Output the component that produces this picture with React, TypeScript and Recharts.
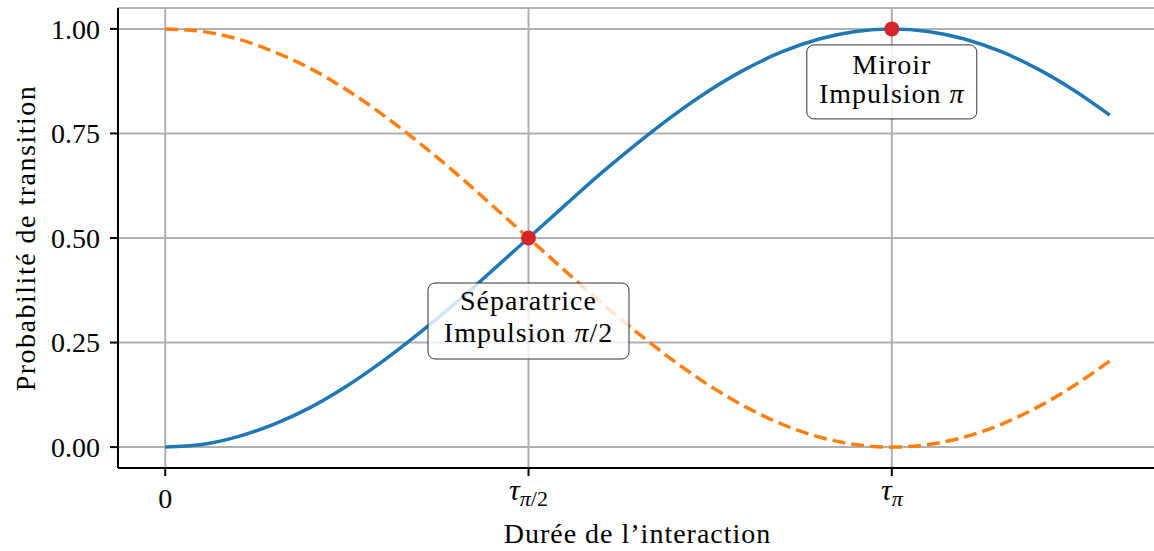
import { ComposedChart, Line, XAxis, YAxis, CartesianGrid, ReferenceDot } from "recharts";

// durée d'interaction (unités de τπ) et probabilités
const times = [0, 0.05, 0.1, 0.15, 0.2, 0.25, 0.3, 0.35, 0.4, 0.45, 0.5, 0.55, 0.6, 0.65, 0.7, 0.75, 0.8, 0.85, 0.9, 0.95, 1, 1.05, 1.1, 1.15, 1.2, 1.25, 1.3];
const excitedProb = [0, 0.006, 0.025, 0.055, 0.095, 0.146, 0.206, 0.273, 0.345, 0.422, 0.5, 0.578, 0.655, 0.727, 0.794, 0.854, 0.905, 0.946, 0.976, 0.994, 1, 0.994, 0.976, 0.946, 0.905, 0.854, 0.794];
const groundProb = [1, 0.994, 0.976, 0.945, 0.905, 0.854, 0.794, 0.727, 0.655, 0.578, 0.5, 0.422, 0.345, 0.273, 0.206, 0.146, 0.095, 0.054, 0.024, 0.006, 0, 0.006, 0.024, 0.054, 0.095, 0.146, 0.206];

const xTicks = [0, 0.5, 1];
const xTickMain = ["0", "τ", "τ"];
const xTickSub = ["", "π/2", "π"];
const yTicks = [0, 0.25, 0.5, 0.75, 1];
const yTickLabels = ["0.00", "0.25", "0.50", "0.75", "1.00"];

const pulseTimes = [0.5, 1];
const pulseProbs = [0.5, 1];
const pulseTitles = ["Séparatrice", "Miroir"];
const pulseAngles = ["π/2", "π"];

// position des boîtes par rapport au point
const boxes = [
  { w: 201, h: 76, top: 45, line1: 72, line2: 104 },
  { w: 170, h: 74, top: 16, line1: 45, line2: 74 },
];

const FONT = "'Liberation Serif', 'DejaVu Serif', serif";

const data = times.map((t, i) => ({ t, excited: excitedProb[i], ground: groundProb[i] }));

function XTick(props: any) {
  const { x, y, payload } = props;
  const i = xTicks.indexOf(payload.value);
  if (!xTickSub[i]) {
    return (
      <text x={x} y={y + 30} textAnchor="middle" fontSize={28} fill="#000" fontFamily={FONT}>
        {xTickMain[i]}
      </text>
    );
  }
  const sub = xTickSub[i];
  return (
    <text x={x} y={y + 22} textAnchor="middle" fontSize={30} fill="#000" fontFamily={FONT}>
      <tspan fontStyle="italic">{xTickMain[i]}</tspan>
      <tspan fontSize={22} dy={6} fontStyle="italic">{sub[0]}</tspan>
      <tspan fontSize={22}>{sub.slice(1)}</tspan>
    </text>
  );
}

function pulseShape(i: number) {
  return (props: any) => {
    const { cx, cy } = props;
    const b = boxes[i];
    const angle = pulseAngles[i];
    return (
      <g>
        <rect x={cx - b.w / 2} y={cy + b.top} width={b.w} height={b.h} rx={7} fill="#fff" fillOpacity={0.8} stroke="#333" strokeWidth={1} />
        <text x={cx} y={cy + b.line1} textAnchor="middle" fontSize={28} fontFamily={FONT} letterSpacing={1} fill="#000">
          {pulseTitles[i]}
        </text>
        <text x={cx} y={cy + b.line2} textAnchor="middle" fontSize={28} fontFamily={FONT} letterSpacing={1} fill="#000">
          Impulsion <tspan fontStyle="italic">{angle[0]}</tspan>
          {angle.slice(1)}
        </text>
        <circle cx={cx} cy={cy} r={7.5} fill="#d62728" />
      </g>
    );
  };
}

export default function App() {
  return (
    <div style={{ position: "fixed", left: 0, top: 0, width: 1154, height: 551, overflow: "hidden", background: "#fff", fontFamily: FONT }}>
      <ComposedChart width={1200} height={551} data={data} margin={{ top: 8, right: 43, bottom: 0, left: 0 }}>
        <CartesianGrid stroke="#b0b0b0" strokeWidth={2} />
        <XAxis
          dataKey="t"
          type="number"
          domain={[-0.065, 1.365]}
          ticks={xTicks}
          height={83}
          tick={<XTick />}
          tickSize={8}
          axisLine={{ stroke: "#000", strokeWidth: 2 }}
          tickLine={{ stroke: "#000", strokeWidth: 2 }}
          allowDataOverflow
          label={{
            content: (p: any) => {
              const vb = p.viewBox;
              return (
                <text x={vb.x + vb.width / 2} y={vb.y + 75} textAnchor="middle" fontSize={28} fontFamily={FONT} letterSpacing={1} fill="#000">
                  Durée de l’interaction
                </text>
              );
            },
          }}
        />
        <XAxis xAxisId="top" orientation="top" type="number" domain={[-0.065, 1.365]} height={0} tick={false} tickLine={false} axisLine={{ stroke: "#000", strokeWidth: 2 }} />
        <YAxis
          type="number"
          domain={[-0.05, 1.05]}
          ticks={yTicks}
          width={118}
          tickSize={8}
          tickMargin={10}
          tickFormatter={(v: number) => yTickLabels[yTicks.indexOf(v)]}
          tick={{ fontSize: 28, fill: "#000", fontFamily: FONT }}
          axisLine={{ stroke: "#000", strokeWidth: 2 }}
          tickLine={{ stroke: "#000", strokeWidth: 2 }}
          allowDataOverflow
          label={{
            content: (p: any) => {
              const vb = p.viewBox;
              const cx = vb.x + 25;
              const cy = vb.y + vb.height / 2;
              return (
                <text x={cx} y={cy} transform={`rotate(-90 ${cx} ${cy})`} textAnchor="middle" dominantBaseline="central" fontSize={28} fontFamily={FONT} letterSpacing={1.5} fill="#000">
                  Probabilité de transition
                </text>
              );
            },
          }}
        />
        <Line type="monotone" dataKey="excited" stroke="#1f77b4" strokeWidth={3.5} dot={false} isAnimationActive={false} />
        <Line type="monotone" dataKey="ground" stroke="#ff7f0e" strokeWidth={3.5} strokeDasharray="13 6" dot={false} isAnimationActive={false} />
        {pulseTimes.map((t, i) => (
          <ReferenceDot key={i} x={t} y={pulseProbs[i]} r={7} shape={pulseShape(i)} ifOverflow="visible" />
        ))}
      </ComposedChart>
    </div>
  );
}
